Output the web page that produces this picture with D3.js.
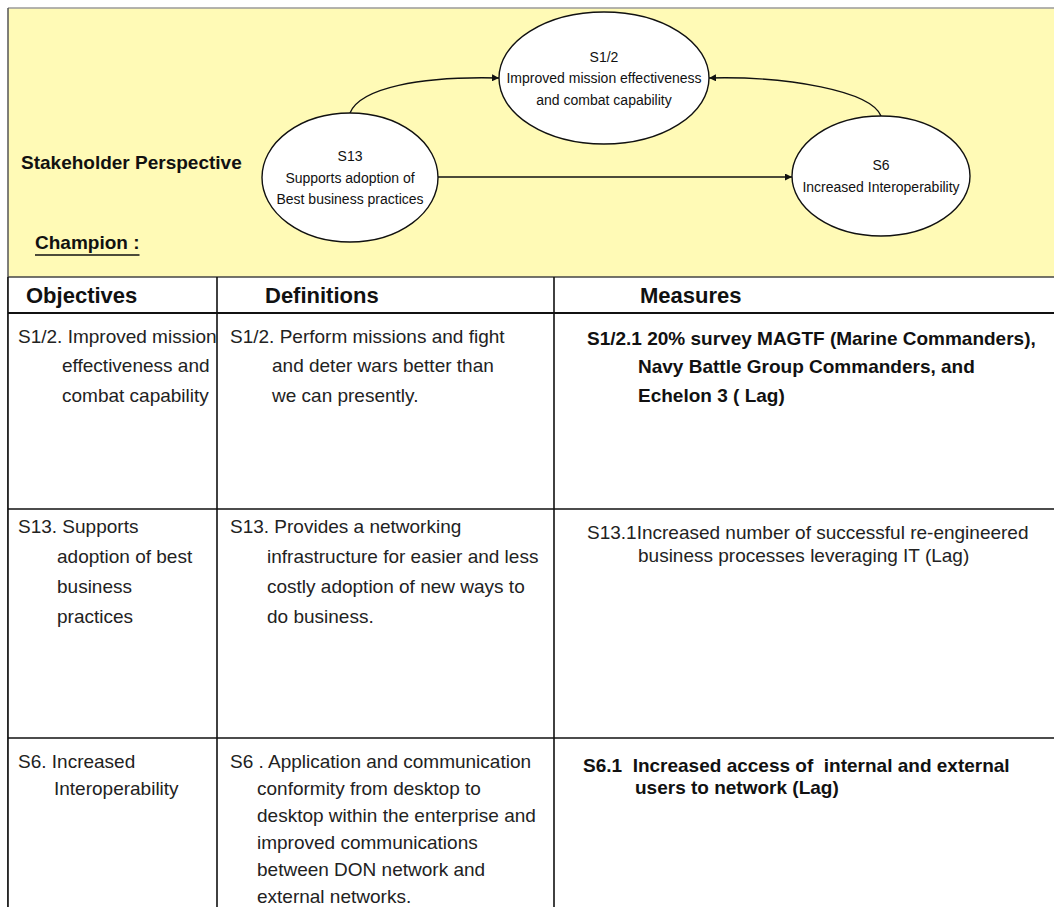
<!DOCTYPE html>
<html><head><meta charset="utf-8">
<script src="https://cdn.jsdelivr.net/npm/d3@7"></script>
<style>
html,body{margin:0;padding:0;background:#fff;}
svg{display:block;}
text{font-family:"Liberation Sans", Arial, Helvetica, sans-serif; fill:#111;}
</style></head><body>
<svg id="chart" width="1054" height="907"></svg>
<script>
// ---------------- data ----------------
const perspectiveLabel = "Stakeholder Perspective";
const championLabel = "Champion :";
const columnHeaders = ["Objectives", "Definitions", "Measures"];
const nodeIds = ["S1/2", "S13", "S6"];
const nodeLabelLines = [
  ["S1/2", "Improved mission effectiveness", "and combat capability"],
  ["S13", "Supports adoption of", "Best business practices"],
  ["S6", "Increased Interoperability"]
];
const links = [
  {source: "S13", target: "S1/2"},
  {source: "S6", target: "S1/2"},
  {source: "S13", target: "S6"}
];
const objectivesText = [
  ["S1/2. Improved mission", "effectiveness and", "combat capability"],
  ["S13. Supports", "adoption of best", "business", "practices"],
  ["S6. Increased", "Interoperability"]
];
const definitionsText = [
  ["S1/2. Perform missions and fight", "and deter wars better than", "we can presently."],
  ["S13. Provides a networking", "infrastructure for easier and less", "costly adoption of new ways to", "do business."],
  ["S6 . Application and communication", "conformity from desktop to", "desktop within the enterprise and", "improved communications", "between DON network and", "external networks."]
];
const measuresText = [
  ["S1/2.1 20% survey MAGTF (Marine Commanders),", "Navy Battle Group Commanders, and", "Echelon 3 ( Lag)"],
  ["S13.1Increased number of successful re-engineered", "business processes leveraging IT (Lag)"],
  ["S6.1  Increased access of  internal and external", "users to network (Lag)"]
];
const measuresBold = [true, false, true];

// ---------------- layout ----------------
const W = 1054, H = 907;
const panel = {x: 8, y: 8, bottom: 277, fill: "#FFFAB6"};
const colX = [8, 217, 554, W];
const headerTop = 277, headerBottom = 313;
const rowBounds = [313, 509, 738, H];
const nodeGeom = {
  "S1/2": {cx: 604, cy: 78, rx: 105, ry: 66},
  "S13":  {cx: 350, cy: 177.5, rx: 88, ry: 64.5},
  "S6":   {cx: 881, cy: 176, rx: 89, ry: 60}
};
const bodyFont = 19;
const colFirstX = [[18, 18, 18], [230, 230, 230], [587, 587, 583]];
const colIndentX = [[62, 57, 54], [272, 267, 257], [638, 638, 635]];
const firstLineY = [[336, 526, 761], [336, 526, 761], [338, 532, 765]];
const lineStep = [[29.5, 30, 27], [29.5, 30, 27], [28.5, 23, 22]];

const svg = d3.select("#chart");
const defs = svg.append("defs");
defs.append("marker").attr("id", "arrow")
  .attr("viewBox", "0 0 10 10").attr("refX", 10).attr("refY", 5)
  .attr("markerWidth", 7).attr("markerHeight", 7).attr("markerUnits", "userSpaceOnUse")
  .attr("orient", "auto")
  .append("path").attr("d", "M0,0L10,5L0,10Z").attr("fill", "#111");
defs.append("clipPath").attr("id", "clipCol0")
  .append("rect").attr("x", colX[0]).attr("y", 0).attr("width", colX[1] - colX[0] - 1).attr("height", H);

// background panel
svg.append("rect").attr("x", 0).attr("y", 0).attr("width", W).attr("height", H).attr("fill", "#fff");
svg.append("rect").attr("x", panel.x).attr("y", panel.y)
  .attr("width", W - panel.x + 2).attr("height", panel.bottom - panel.y)
  .attr("fill", panel.fill);
svg.append("line").attr("x1", panel.x).attr("x2", W).attr("y1", panel.y).attr("y2", panel.y)
  .attr("stroke", "#9a9a9a").attr("stroke-width", 1.5);
svg.append("line").attr("x1", panel.x).attr("x2", panel.x).attr("y1", panel.y).attr("y2", H)
  .attr("stroke", "#555").attr("stroke-width", 1.5);

// perspective labels
svg.append("text").attr("x", 21).attr("y", 162).attr("dy", "0.36em")
  .attr("font-size", 19).attr("font-weight", "bold").text(perspectiveLabel);
const champ = svg.append("text").attr("x", 35).attr("y", 242).attr("dy", "0.36em")
  .attr("font-size", 19).attr("font-weight", "bold").text(championLabel);
const cw = champ.node().getComputedTextLength();
svg.append("line").attr("x1", 35).attr("x2", 35 + cw).attr("y1", 255).attr("y2", 255)
  .attr("stroke", "#111").attr("stroke-width", 1.5);

// links
function edgePoint(id, side) {
  const g = nodeGeom[id];
  if (side === "top") return [g.cx, g.cy - g.ry];
  if (side === "left") return [g.cx - g.rx, g.cy];
  return [g.cx + g.rx, g.cy];
}
function linkPath(l) {
  const s = nodeGeom[l.source], t = nodeGeom[l.target];
  const p = d3.path();
  if (Math.abs(s.cy - t.cy) < 10) {
    const y = 177;
    const dy = y - t.cy;
    const tx = t.cx - t.rx * Math.sqrt(1 - (dy * dy) / (t.ry * t.ry));
    p.moveTo(s.cx + s.rx, y);
    p.lineTo(tx, y);
    return p.toString();
  }
  const [x0, y0] = edgePoint(l.source, "top");
  const goingRight = t.cx > s.cx;
  const [x3, y3] = edgePoint(l.target, goingRight ? "left" : "right");
  const dir = goingRight ? 1 : -1;
  p.moveTo(x0, y0);
  p.bezierCurveTo(x0 + dir * 10, y0 - 25, x3 - dir * 79, y3 - 2, x3, y3);
  return p.toString();
}
svg.append("g").selectAll("path").data(links).join("path")
  .attr("d", linkPath).attr("fill", "none").attr("stroke", "#111")
  .attr("stroke-width", 1.4).attr("marker-end", "url(#arrow)");

// nodes
const nodeG = svg.append("g").selectAll("g").data(nodeIds).join("g")
  .attr("transform", d => `translate(${nodeGeom[d].cx},${nodeGeom[d].cy})`);
nodeG.append("ellipse").attr("rx", d => nodeGeom[d].rx).attr("ry", d => nodeGeom[d].ry)
  .attr("fill", "#fff").attr("stroke", "#111").attr("stroke-width", 1.4);
const lineH = 21.5;
nodeG.each(function(d, i) {
  const lines = nodeLabelLines[i];
  const off = -(lines.length - 1) * lineH / 2;
  d3.select(this).selectAll("text").data(lines).join("text")
    .attr("x", 0).attr("y", (t, j) => off + j * lineH).attr("dy", "0.36em")
    .attr("text-anchor", "middle").attr("font-size", 14).text(t => t);
});

// table grid
svg.append("rect").attr("x", colX[0]).attr("y", headerTop).attr("width", W - colX[0] + 2)
  .attr("height", H - headerTop).attr("fill", "#fff");
const grid = svg.append("g").attr("stroke", "#111");
grid.append("line").attr("x1", colX[0]).attr("x2", W).attr("y1", headerTop).attr("y2", headerTop)
  .attr("stroke", "#444").attr("stroke-width", 1.5);
grid.append("line").attr("x1", colX[0]).attr("x2", W).attr("y1", headerBottom).attr("y2", headerBottom)
  .attr("stroke-width", 2.2);
grid.selectAll("line.row").data(rowBounds.slice(1, 3)).join("line").attr("class", "row")
  .attr("x1", colX[0]).attr("x2", W).attr("y1", d => d).attr("y2", d => d).attr("stroke-width", 1.6);
grid.selectAll("line.col").data(colX.slice(0, 3)).join("line").attr("class", "col")
  .attr("x1", d => d).attr("x2", d => d).attr("y1", headerTop).attr("y2", H).attr("stroke-width", 1.6);

// headers
const headerX = [26, 265, 640];
svg.append("g").selectAll("text").data(columnHeaders).join("text")
  .attr("x", (d, i) => headerX[i]).attr("y", 295).attr("dy", "0.36em")
  .attr("font-size", 22).attr("font-weight", "bold").text(d => d);

// body cells
const columns = [objectivesText, definitionsText, measuresText];
columns.forEach((col, c) => {
  const g = svg.append("g");
  if (c === 0) g.attr("clip-path", "url(#clipCol0)");
  col.forEach((lines, r) => {
    const bold = c === 2 && measuresBold[r];
    g.append("g").selectAll("text").data(lines).join("text")
      .attr("x", (d, j) => j === 0 ? colFirstX[c][r] : colIndentX[c][r])
      .attr("y", (d, j) => firstLineY[c][r] + j * lineStep[c][r])
      .attr("dy", "0.36em")
      .attr("font-size", bodyFont)
      .attr("font-weight", bold ? "bold" : "normal")
      .style("fill", bold ? "#111" : "#222")
      .style("white-space", "pre")
      .text(d => d);
  });
});
</script>
</body></html>
